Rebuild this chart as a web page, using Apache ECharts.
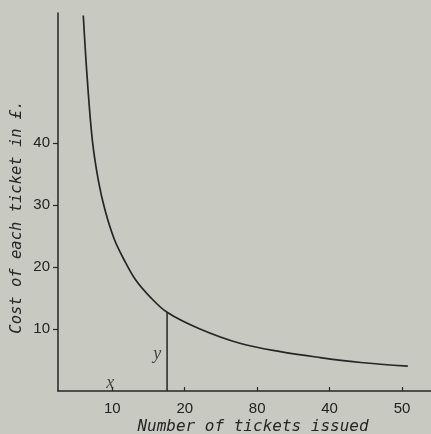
<!DOCTYPE html>
<html>
<head>
<meta charset="utf-8">
<script src="https://cdn.jsdelivr.net/npm/echarts@6/dist/echarts.min.js"></script>
<style>
html,body{margin:0;padding:0;background:#c8c9c0;}
#chart{width:431px;height:434px;}
</style>
</head>
<body>
<div id="chart"></div>
<script>
// Curve (tickets issued, cost per ticket in £)
const curveX = [5.99, 6.55, 7.24, 8.07, 8.99, 10.3, 11.66, 13.23, 15.2, 17.56, 22.1, 27.6, 33.2, 38.7, 44.3, 50.8];
const curveY = [60.6, 50.2, 40.5, 34.0, 29.2, 24.4, 21.1, 17.9, 15.2, 12.7, 10.0, 7.7, 6.35, 5.4, 4.6, 4.0];
// Ordinate drawn at x = 17.6
const ordX = [17.56, 17.56];
const ordY = [0, 12.7];
// Letter annotations
const noteText = ['x', 'y'];
const noteX = [9.7, 16.2];
const noteY = [1.3, 5.9];
// Tick labels (as printed)
const xTickValues = [10, 20, 30, 40, 50];
const xTickLabels = ['10', '20', '80', '40', '50'];
const yTickValues = [10, 20, 30, 40];
const yTickLabels = ['10', '20', '30', '40'];

const ink = '#262626';
const chart = echarts.init(document.getElementById('chart'));
chart.setOption({
  backgroundColor: '#c8c9c0',
  animation: false,
  grid: {left: 58, right: 0, top: 13, bottom: 43, containLabel: false, outerBoundsMode: 'none'},
  xAxis: {
    type: 'value', min: 2.5, max: 54,
    splitLine: {show: false},
    axisLine: {show: true, lineStyle: {color: ink, width: 1.5}},
    axisTick: {show: true, inside: true, length: 4, customValues: xTickValues, lineStyle: {color: ink, width: 1.2}},
    axisLabel: {customValues: xTickValues, margin: 10, color: '#222', fontSize: 15,
      fontFamily: 'Liberation Sans, Arial, sans-serif',
      formatter: v => xTickLabels[xTickValues.indexOf(v)] || ''},
    name: 'Number of tickets issued', nameLocation: 'middle', nameGap: 28, nameMoveOverlap: false,
    nameTextStyle: {fontFamily: 'DejaVu Sans Mono, monospace', fontStyle: 'italic', fontSize: 16, color: ink, padding: [0, 0, 0, 17]}
  },
  yAxis: {
    type: 'value', min: 0, max: 61,
    splitLine: {show: false},
    axisLine: {show: true, onZero: false, lineStyle: {color: ink, width: 1.5}},
    axisTick: {show: true, inside: false, length: 5, customValues: yTickValues, lineStyle: {color: ink, width: 1.2}},
    axisLabel: {customValues: yTickValues, margin: 8, color: '#222', fontSize: 15,
      fontFamily: 'Liberation Sans, Arial, sans-serif',
      formatter: v => yTickLabels[yTickValues.indexOf(v)] || ''},
    name: 'Cost of each ticket in £.', nameLocation: 'middle', nameGap: 33, nameRotate: 90, nameMoveOverlap: false,
    nameTextStyle: {fontFamily: 'DejaVu Sans Mono, monospace', fontStyle: 'italic', fontSize: 15.5, color: ink, padding: [0, 30, 0, 0]}
  },
  series: [
    {
      type: 'line', smooth: 0.35, symbol: 'none',
      data: curveX.map((x, i) => [x, curveY[i]]),
      lineStyle: {color: ink, width: 1.7}
    },
    {
      type: 'line', symbol: 'none',
      data: ordX.map((x, i) => [x, ordY[i]]),
      lineStyle: {color: ink, width: 1.5}
    },
    {
      type: 'scatter', symbolSize: 0,
      data: noteX.map((x, i) => ({value: [x, noteY[i]], name: noteText[i]})),
      label: {show: true, position: 'inside', formatter: p => p.name,
        fontFamily: 'Liberation Serif, serif', fontStyle: 'italic', fontSize: 18, color: ink}
    }
  ]
});
</script>
</body>
</html>
